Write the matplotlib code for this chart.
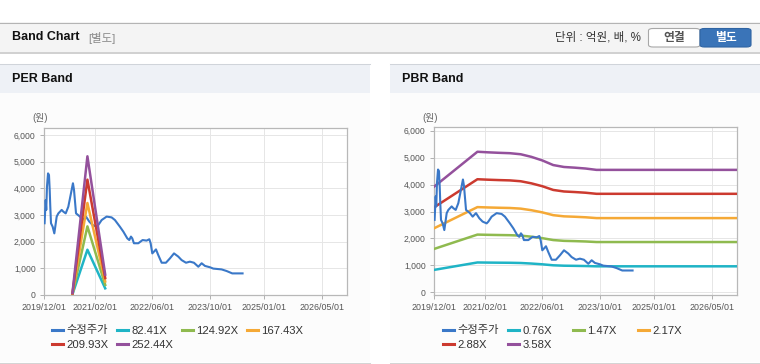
import pandas as pd
import matplotlib
matplotlib.use('Agg')
import matplotlib.pyplot as plt
from matplotlib.patches import Rectangle, FancyBboxPatch
from matplotlib.lines import Line2D

plt.rcParams['font.family'] = ['Liberation Sans', 'Noto Sans CJK KR']

# 수정주가 (원)
price_dates = ['2019-12-06', '2019-12-15', '2019-12-20', '2019-12-26', '2020-01-04', '2020-01-12',
               '2020-01-18', '2020-01-23', '2020-01-29', '2020-02-12', '2020-02-26', '2020-03-05',
               '2020-03-17', '2020-03-31', '2020-04-28', '2020-05-12', '2020-06-01', '2020-06-23',
               '2020-07-21', '2020-08-01', '2020-08-10', '2020-08-27', '2020-09-29', '2020-10-22',
               '2020-11-19', '2020-12-17', '2021-01-14', '2021-02-17', '2021-03-03', '2021-03-31',
               '2021-05-12', '2021-06-23', '2021-07-21', '2021-09-01', '2021-09-30', '2021-11-02',
               '2021-11-19', '2021-12-03', '2021-12-14', '2021-12-28', '2022-02-03', '2022-03-11',
               '2022-04-14', '2022-05-07', '2022-05-18', '2022-06-01', '2022-06-15', '2022-07-02',
               '2022-07-21', '2022-08-19', '2022-09-24', '2022-10-28', '2022-12-01', '2023-01-06',
               '2023-02-03', '2023-03-12', '2023-04-14', '2023-05-18', '2023-06-24', '2023-07-22',
               '2023-08-19', '2023-09-30', '2023-10-28', '2024-01-06', '2024-02-17', '2024-04-05',
               '2024-05-17', '2024-07-01']
price = [2690, 3560, 3190, 4060, 4560, 4500,
         3940, 3310, 2690, 2560, 2310, 2560,
         2940, 3060, 3190, 3125, 3060, 3310,
         3940, 4190, 3940, 3060, 2940, 2810,
         2940, 2750, 2625, 2560, 2625, 2810,
         2940, 2910, 2810, 2560, 2375, 2125,
         2060, 2190, 2125, 1940, 1940, 2060,
         2040, 2090, 1940, 1560, 1625, 1710,
         1500, 1210, 1210, 1375, 1560, 1440,
         1310, 1210, 1250, 1210, 1060, 1190,
         1090, 1040, 990, 960, 900, 810,
         810, 810]

# PER band: EPS * multiple
eps_dates = ['2020-07-28', '2020-12-01', '2021-04-30']
eps = [0.3, 20.6, 3.03]
per_mult = [82.41, 124.92, 167.43, 209.93, 252.44]

# PBR band: BPS * multiple
bps_dates = ['2019-12-01', '2020-12-01', '2021-03-01', '2021-06-01', '2021-09-01', '2021-12-01',
             '2022-03-01', '2022-06-01', '2022-09-01', '2022-12-01', '2023-03-01', '2023-06-01',
             '2023-09-01', '2026-12-01']
bps = [1095, 1458, 1452, 1447, 1443, 1432,
       1405, 1368, 1320, 1300, 1293, 1284,
       1270, 1270]
pbr_mult = [0.76, 1.47, 2.17, 2.88, 3.58]

x_ticks = ['2019/12/01', '2021/02/01', '2022/06/01', '2023/10/01', '2025/01/01', '2026/05/01']
y_ticks = [0, 1000, 2000, 3000, 4000, 5000, 6000]

price_color = '#3a78c8'
band_colors = ['#1fb4c6', '#8fba4f', '#f5a936', '#cc3a2f', '#94519c']

W, H = 760, 364
fig = plt.figure(figsize=(W / 100, H / 100), dpi=100)
fig.patch.set_facecolor('white')


# helpers in pixel coords (top-left origin)
def box(x, y, w, h, **kw):
    fig.patches.append(Rectangle((x / W, 1 - (y + h) / H), w / W, h / H,
                                 transform=fig.transFigure, zorder=-10, **kw))


def hline(x0, x1, y, color, lw=0.75, z=-5):
    fig.add_artist(Line2D([x0 / W, x1 / W], [1 - y / H, 1 - y / H],
                          transform=fig.transFigure, color=color, lw=lw, zorder=z))


def text(x, y, s, **kw):
    fig.text(x / W, 1 - y / H, s, **kw)


# top header
box(0, 22, W, 30, fc='#f4f4f4', ec='none')
hline(0, W, 22.5, '#b4b4b4')
hline(0, W, 52.5, '#c8c8c8', lw=1.2)
text(12, 37.5, 'Band Chart', fontsize=9, fontweight='bold', color='#111111', va='center')
text(88, 37.5, '[별도]', fontsize=8.2, color='#8a8a8a', va='center')
text(641, 37.5, '단위 : 억원, 배, %', fontsize=8.3, color='#333333', va='center', ha='right')
fig.patches.append(FancyBboxPatch((648.5 / W, 1 - 47 / H), 51.5 / W, 18.5 / H,
                                  boxstyle='round,pad=0,rounding_size=0.006',
                                  transform=fig.transFigure, fc='white', ec='#a8a8a8', lw=0.8, zorder=-4))
fig.patches.append(FancyBboxPatch((700 / W, 1 - 47 / H), 51 / W, 18.5 / H,
                                  boxstyle='round,pad=0,rounding_size=0.006',
                                  transform=fig.transFigure, fc='#3a74b8', ec='#2f64a3', lw=0.8, zorder=-4))
text(674, 37.8, '연결', fontsize=8.5, fontweight='bold', color='#555555', va='center', ha='center')
text(725.5, 37.8, '별도', fontsize=8.5, fontweight='bold', color='white', va='center', ha='center')

# panels
for (x0, x1, title) in [(0, 370, 'PER Band'), (390, 760, 'PBR Band')]:
    box(x0, 64, x1 - x0, 29, fc='#eef1f6', ec='none')
    box(x0, 93, x1 - x0, 269, fc='#fcfcfc', ec='none')
    hline(x0, x1, 64, '#d0d4da')
    hline(x0, x1, 362.5, '#d4d4d4')
    text(x0 + 12, 79, title, fontsize=9, fontweight='bold', color='#111111', va='center')

ax1 = fig.add_axes([44 / W, 1 - 295 / H, 303.3 / W, 166.7 / H])
ax2 = fig.add_axes([434 / W, 1 - 295 / H, 303.3 / W, 168.3 / H])

pd_price = pd.to_datetime(price_dates)
pd_eps = pd.to_datetime(eps_dates)
pd_bps = pd.to_datetime(bps_dates)

ax1.plot(pd_price, price, color=price_color, lw=1.5, zorder=3)
for m, c in zip(per_mult, band_colors):
    ax1.plot(pd_eps, [e * m for e in eps], color=c, lw=1.8, zorder=4)

for m, c in zip(pbr_mult, band_colors):
    ax2.plot(pd_bps, [b * m for b in bps], color=c, lw=1.8, zorder=3)
ax2.plot(pd_price, price, color=price_color, lw=1.5, zorder=4)

ax1.set_ylim(0, 6250)
ax2.set_ylim(-100, 6150)
for ax in (ax1, ax2):
    ax.set_facecolor('white')
    ax.set_xlim(pd.Timestamp('2019-12-01'), pd.Timestamp('2026-12-01'))
    ax.set_xticks(pd.to_datetime(x_ticks, format='%Y/%m/%d'))
    ax.set_xticklabels(x_ticks)
    ax.set_yticks(y_ticks)
    ax.set_yticklabels([f'{v:,}' for v in y_ticks])
    ax.grid(True, color='#e6e6e6', lw=0.7)
    ax.set_axisbelow(True)
    for s in ax.spines.values():
        s.set_color('#b8b8b8')
        s.set_linewidth(0.9)
    ax.tick_params(axis='y', length=3, width=0.7, color='#b0b0b0', pad=3,
                   labelsize=6.2, labelcolor='#555555')
    ax.tick_params(axis='x', length=3, width=0.7, color='#b0b0b0', pad=3,
                   labelsize=6.4, labelcolor='#555555')

text(40, 118, '(원)', fontsize=7, color='#666666', va='center', ha='center')
text(430, 118, '(원)', fontsize=7, color='#666666', va='center', ha='center')

# legends
per_labels = ['수정주가'] + [f'{m:.2f}X' for m in per_mult]
pbr_labels = ['수정주가'] + [f'{m:.2f}X' for m in pbr_mult]
colors = [price_color] + band_colors
for base, labels in [(52, per_labels), (443, pbr_labels)]:
    for i, (lab, c) in enumerate(zip(labels, colors)):
        col, row = i % 4, i // 4
        x = base + 65 * col
        y = 330 + 14.3 * row
        fig.add_artist(Line2D([x / W, (x + 10.5) / W], [1 - y / H, 1 - y / H],
                              transform=fig.transFigure, color=c, lw=2.2))
        text(x + 14.5, y + 0.5, lab, fontsize=8.1, color='#333333', va='center')

fig.savefig('out.png', dpi=100)
